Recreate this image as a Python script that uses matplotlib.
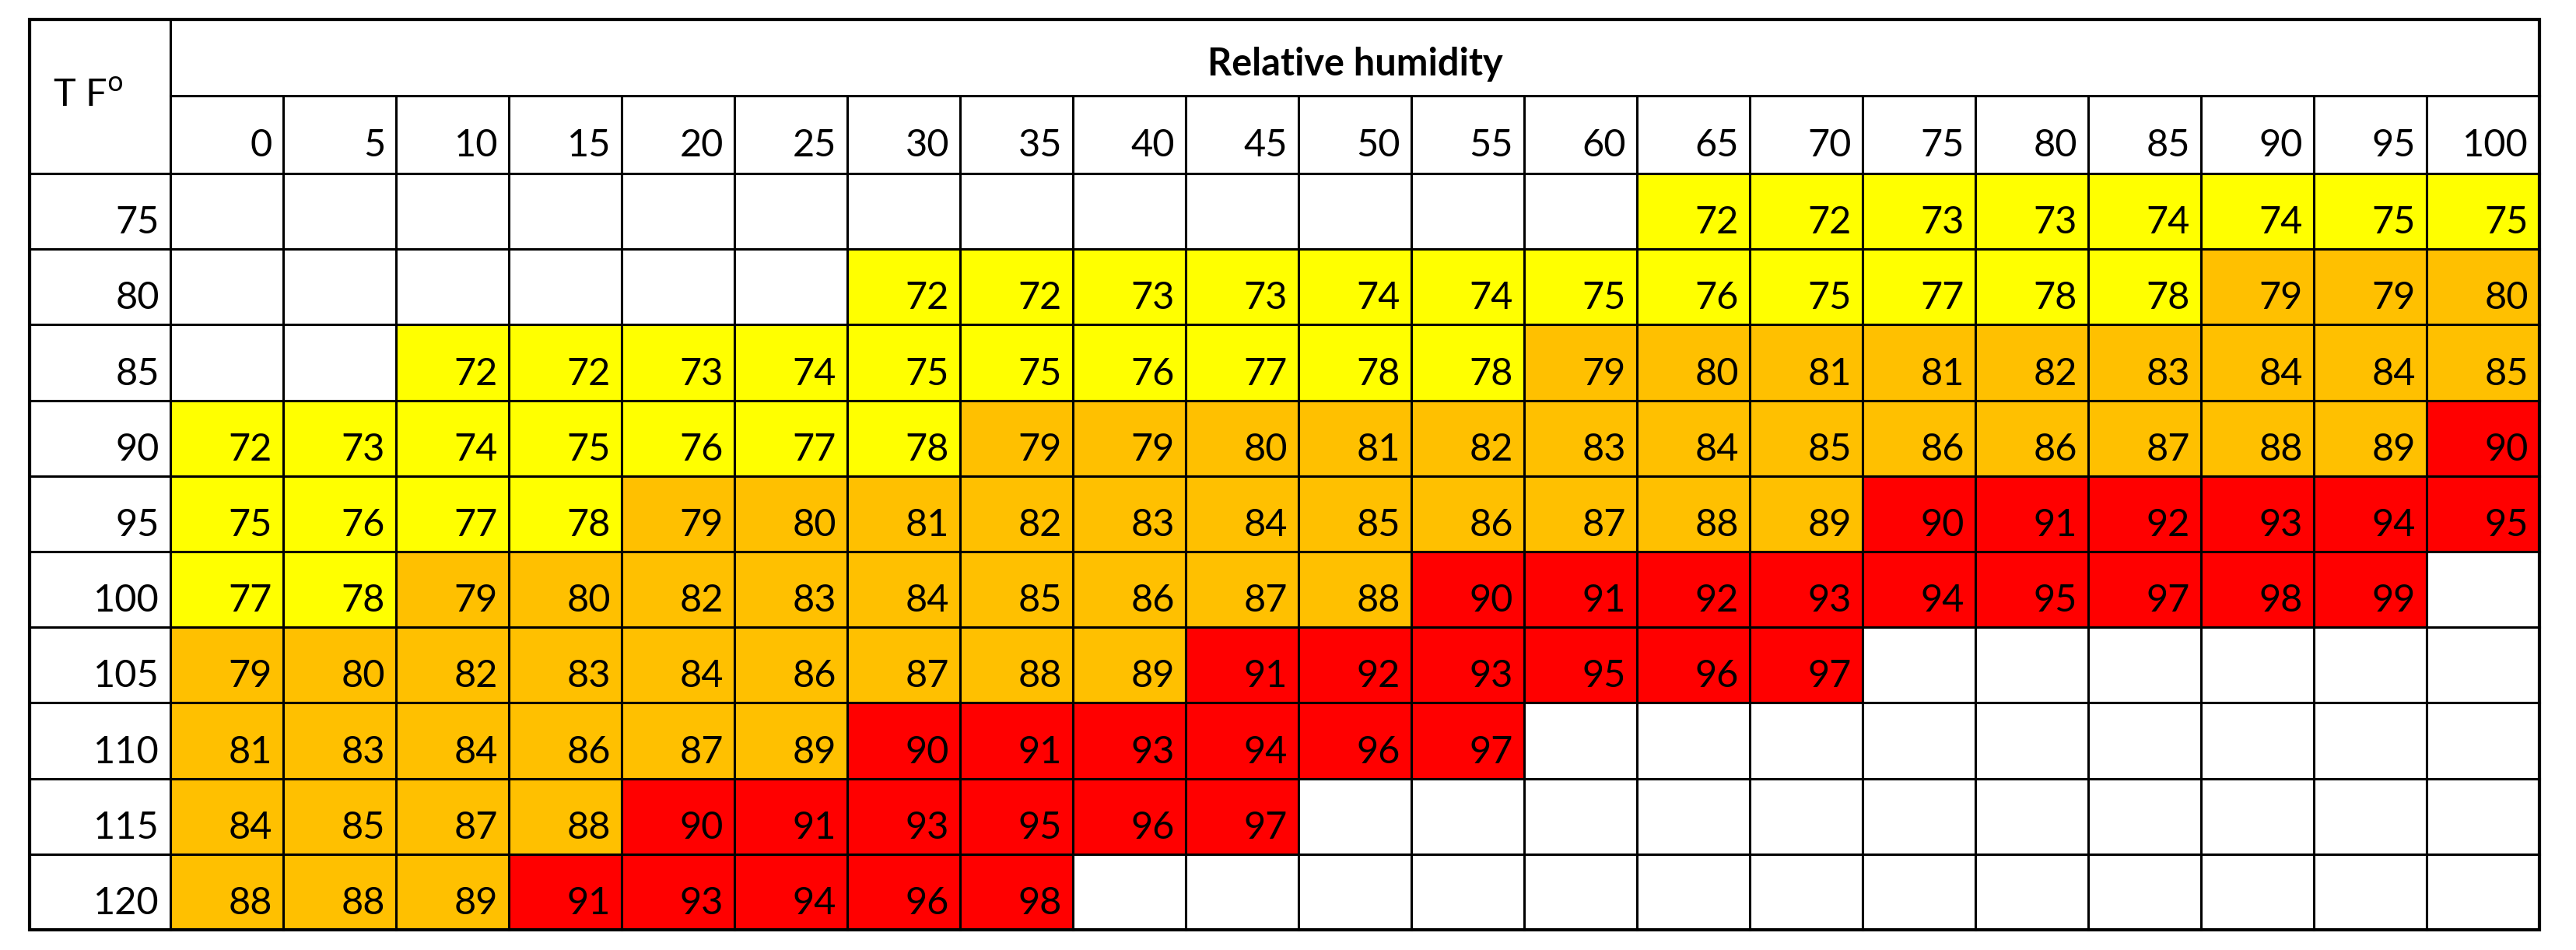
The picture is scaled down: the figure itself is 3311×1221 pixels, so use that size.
import numpy as np
import matplotlib.pyplot as plt
from matplotlib.patches import Rectangle

plt.rcParams['font.family'] = ['Lato', 'DejaVu Sans']

humidity = [0, 5, 10, 15, 20, 25, 30, 35, 40, 45, 50, 55, 60, 65, 70, 75, 80, 85, 90, 95, 100]
temps = [75, 80, 85, 90, 95, 100, 105, 110, 115, 120]
N = None
values = [
    [N]*13 + [72, 72, 73, 73, 74, 74, 75, 75],
    [N]*6 + [72, 72, 73, 73, 74, 74, 75, 76, 75, 77, 78, 78, 79, 79, 80],
    [N]*2 + [72, 72, 73, 74, 75, 75, 76, 77, 78, 78, 79, 80, 81, 81, 82, 83, 84, 84, 85],
    [72, 73, 74, 75, 76, 77, 78, 79, 79, 80, 81, 82, 83, 84, 85, 86, 86, 87, 88, 89, 90],
    [75, 76, 77, 78, 79, 80, 81, 82, 83, 84, 85, 86, 87, 88, 89, 90, 91, 92, 93, 94, 95],
    [77, 78, 79, 80, 82, 83, 84, 85, 86, 87, 88, 90, 91, 92, 93, 94, 95, 97, 98, 99, N],
    [79, 80, 82, 83, 84, 86, 87, 88, 89, 91, 92, 93, 95, 96, 97] + [N]*6,
    [81, 83, 84, 86, 87, 89, 90, 91, 93, 94, 96, 97] + [N]*9,
    [84, 85, 87, 88, 90, 91, 93, 95, 96, 97] + [N]*11,
    [88, 88, 89, 91, 93, 94, 96, 98] + [N]*13,
]

def cell_color(v):
    if v is None:
        return 'white'
    if v < 79:
        return '#FFFF00'
    if v < 90:
        return '#FFC000'
    return '#FF0000'

# layout (pixels)
left, top = 38, 25
c0w, cw = 181, 145
h1, h2, rh = 98, 100, 97.2
ncol, nrow = len(humidity), len(temps)
right = left + c0w + ncol * cw
y_data = top + h1 + h2
bottom = y_data + nrow * rh
fs = 35
pad = 14

fig = plt.figure(figsize=(33.11, 12.21), dpi=100)
ax = fig.add_axes([0, 0, 1, 1])
ax.set_xlim(0, 3311)
ax.set_ylim(1221, 0)
ax.axis('off')

for i, t in enumerate(temps):
    y = y_data + i * rh
    for j, v in enumerate(values[i]):
        x = left + c0w + j * cw
        ax.add_patch(Rectangle((x, y), cw, rh, facecolor=cell_color(v),
                               edgecolor='black', lw=2.2))
        if v is not None:
            ax.text(x + cw - pad, y + rh - 12, str(v), ha='right', va='bottom', fontsize=fs)
    ax.add_patch(Rectangle((left, y), c0w, rh, facecolor='white', edgecolor='black', lw=2.2))
    ax.text(left + c0w - pad, y + rh - 12, str(t), ha='right', va='bottom', fontsize=fs)

for j, h in enumerate(humidity):
    x = left + c0w + j * cw
    ax.add_patch(Rectangle((x, top + h1), cw, h2, facecolor='white', edgecolor='black', lw=2.2))
    ax.text(x + cw - pad, top + h1 + h2 - 14, str(h), ha='right', va='bottom', fontsize=fs)

ax.add_patch(Rectangle((left + c0w, top), ncol * cw, h1, facecolor='white', edgecolor='black', lw=2.2))
ax.text(left + c0w + ncol * cw / 2, top + h1 - 18, 'Relative humidity', ha='center', va='bottom',
        fontsize=fs, fontweight='bold')
ax.add_patch(Rectangle((left, top), c0w, h1 + h2, facecolor='none', edgecolor='black', lw=2.2))
ax.text(left + 30, top + 120, 'T F$^{\\mathrm{o}}$', ha='left', va='bottom', fontsize=fs)
ax.add_patch(Rectangle((left, top), right - left, bottom - top, facecolor='none', edgecolor='black', lw=3))

fig.savefig('out.png', dpi=100)
